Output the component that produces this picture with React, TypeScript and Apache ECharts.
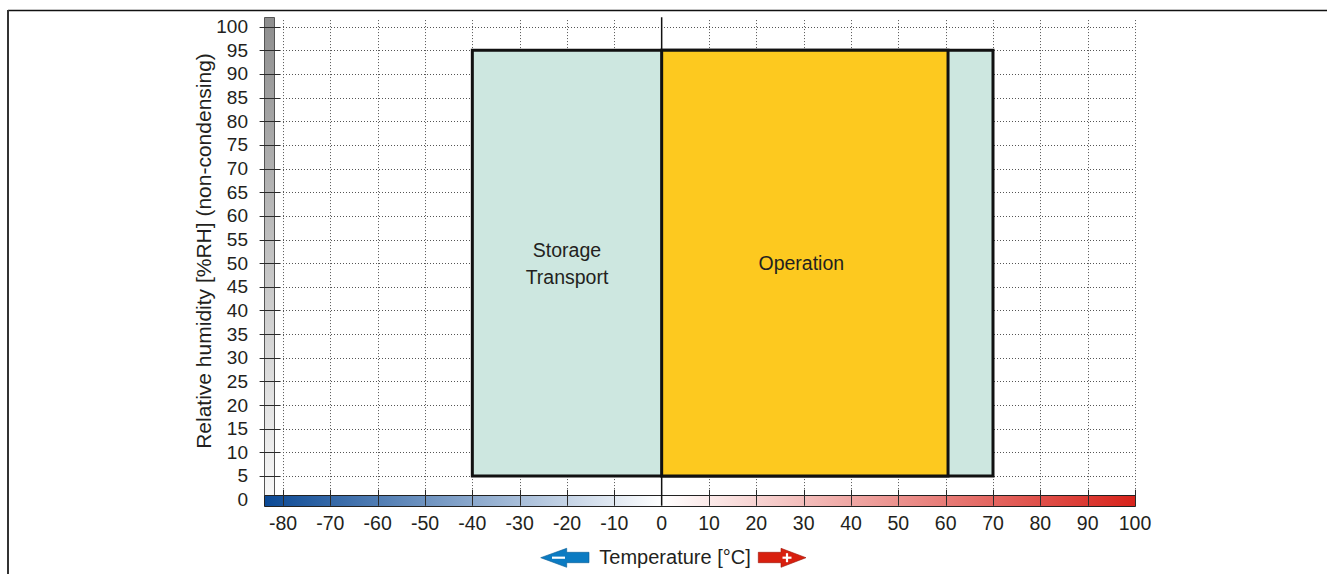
import React, { useEffect, useRef } from 'react';
import * as echarts from 'echarts';

// ---- data ----
const tempTicks = [-80, -70, -60, -50, -40, -30, -20, -10, 0, 10, 20, 30, 40, 50, 60, 70, 80, 90, 100];
const rhTicks = [0, 5, 10, 15, 20, 25, 30, 35, 40, 45, 50, 55, 60, 65, 70, 75, 80, 85, 90, 95, 100];
const tempScaleExtent = [-84.1, 100];
const rhScaleExtent = [-1.3, 102];
const tempBarRh = [-1.3, 1.0];
const rhBarTemp = [-84.1, -82.0];
const gridTopRh = 101.4;

const zoneNames = ['Storage\nTransport', 'Operation'];
const zoneTempMin = [-40, 0];
const zoneTempMax = [70, 60.5];
const zoneRhMin = [5, 5];
const zoneRhMax = [95, 95];
const zoneFill = ['#cde7e0', '#fdc91f'];
const zoneLabelTemp = [-20, 29.5];
const zoneLabelRh = [50, 50];

const yAxisTitle = 'Relative humidity [%RH] (non-condensing)';
const xAxisTitle = 'Temperature [°C]';

const FONT = '"Liberation Sans", Arial, Helvetica, sans-serif';
const TXT = '#231f20';

const crisp = (v: number) => Math.round(v) + 0.5;

export default function App() {
  const ref = useRef<HTMLDivElement>(null);
  useEffect(() => {
    if (!ref.current) return;
    const chart = echarts.init(ref.current, undefined, { renderer: 'svg' });

    const gridSeries = {
      type: 'custom',
      clip: false,
      silent: true,
      z: 1,
      data: [[0, 0]],
      renderItem: (_p: any, api: any) => {
        const children: any[] = [];
        const dotted = { stroke: '#555', lineWidth: 1, lineDash: [1, 2] };
        tempTicks.forEach((t) => {
          if (t === 0) return;
          const a = api.coord([t, gridTopRh]);
          const b = api.coord([t, 0]);
          const x = crisp(a[0]);
          children.push({ type: 'line', shape: { x1: x, y1: a[1], x2: x, y2: b[1] }, style: dotted });
        });
        rhTicks.forEach((r) => {
          if (r === 0) return;
          const a = api.coord([tempTicks[0], r]);
          const b = api.coord([tempTicks[tempTicks.length - 1], r]);
          const y = crisp(a[1]);
          children.push({ type: 'line', shape: { x1: a[0], y1: y, x2: b[0], y2: y }, style: dotted });
        });
        return { type: 'group', children };
      },
    };

    const zoneSeries = {
      type: 'custom',
      clip: false,
      silent: true,
      z: 2,
      data: zoneNames.map((_n, i) => [zoneTempMin[i], zoneTempMax[i], zoneRhMin[i], zoneRhMax[i], i]),
      renderItem: (params: any, api: any) => {
        const i = params.dataIndex;
        const p1 = api.coord([zoneTempMin[i], zoneRhMax[i]]);
        const p2 = api.coord([zoneTempMax[i], zoneRhMin[i]]);
        const lp = api.coord([zoneLabelTemp[i], zoneLabelRh[i]]);
        return {
          type: 'group',
          children: [
            {
              type: 'rect',
              shape: { x: p1[0], y: p1[1], width: p2[0] - p1[0], height: p2[1] - p1[1] },
              style: { fill: zoneFill[i], stroke: '#111', lineWidth: 3 },
            },
            {
              type: 'text',
              x: lp[0],
              y: lp[1],
              style: {
                text: zoneNames[i],
                fill: TXT,
                fontSize: 19.5,
                fontFamily: FONT,
                align: 'center',
                verticalAlign: 'middle',
                lineHeight: 27,
              },
            },
          ],
        };
      },
    };

    const scaleSeries = {
      type: 'custom',
      clip: false,
      silent: true,
      z: 3,
      data: [[0, 0]],
      renderItem: (_p: any, api: any) => {
        const children: any[] = [];
        // vertical humidity bar
        const v1 = api.coord([rhBarTemp[0], rhScaleExtent[1]]);
        const v2 = api.coord([rhBarTemp[1], tempBarRh[1]]);
        children.push({
          type: 'rect',
          shape: { x: crisp(v1[0]), y: crisp(v1[1]), width: Math.round(v2[0] - v1[0]), height: Math.round(v2[1] - v1[1]) },
          style: {
            fill: new echarts.graphic.LinearGradient(0, 0, 0, 1, [
              { offset: 0, color: '#8e8e8e' },
              { offset: 1, color: '#f7f7f7' },
            ]),
            stroke: '#555',
            lineWidth: 1,
          },
        });
        // horizontal temperature bar
        const h1 = api.coord([tempScaleExtent[0], tempBarRh[1]]);
        const h2 = api.coord([tempScaleExtent[1], tempBarRh[0]]);
        const zeroFrac = (0 - tempScaleExtent[0]) / (tempScaleExtent[1] - tempScaleExtent[0]);
        children.push({
          type: 'rect',
          shape: { x: crisp(h1[0]), y: crisp(h1[1]), width: Math.round(h2[0] - h1[0]), height: Math.round(h2[1] - h1[1]) },
          style: {
            fill: new echarts.graphic.LinearGradient(0, 0, 1, 0, [
              { offset: 0, color: '#0b4995' },
              { offset: zeroFrac, color: '#ffffff' },
              { offset: 1, color: '#d7231b' },
            ]),
            stroke: '#222',
            lineWidth: 1,
          },
        });
        // y ticks
        rhTicks.forEach((r) => {
          if (r === 0) return;
          const p = api.coord([rhBarTemp[0], r]);
          const y = crisp(p[1]);
          children.push({
            type: 'line',
            shape: { x1: p[0] - 4, y1: y, x2: p[0] + 17, y2: y },
            style: { stroke: '#2a2a2a', lineWidth: 1 },
          });
        });
        // x ticks
        tempTicks.forEach((t) => {
          if (t === 0) return;
          const p = api.coord([t, tempBarRh[0]]);
          const x = crisp(p[0]);
          children.push({
            type: 'line',
            shape: { x1: x, y1: p[1], x2: x, y2: p[1] - 16 },
            style: { stroke: '#2a2a2a', lineWidth: 1 },
          });
        });
        // zero line
        const z1 = api.coord([0, rhScaleExtent[1]]);
        const z2 = api.coord([0, tempBarRh[0]]);
        children.push({
          type: 'line',
          shape: { x1: z1[0], y1: z1[1], x2: z2[0], y2: z2[1] },
          style: { stroke: '#111', lineWidth: 1.5 },
        });
        return { type: 'group', children };
      },
    };

    chart.setOption({
      animation: false,
      grid: { left: 283, right: 192, top: 26.7, bottom: 74.4, containLabel: false },
      xAxis: {
        type: 'value',
        min: -80,
        max: 100,
        interval: 10,
        axisLine: { show: false },
        axisTick: { show: false },
        splitLine: { show: false },
        axisLabel: { fontSize: 19.5, fontFamily: FONT, color: TXT, margin: 13.5 },
      },
      yAxis: {
        type: 'value',
        min: 0,
        max: 100,
        interval: 5,
        axisLine: { show: false },
        axisTick: { show: false },
        splitLine: { show: false },
        axisLabel: { fontSize: 19, fontFamily: FONT, color: TXT, margin: 35 },
      },
      series: [gridSeries, zoneSeries, scaleSeries],
      graphic: {
        elements: [
          { type: 'line', shape: { x1: 8, y1: 10.5, x2: 1327, y2: 10.5 }, style: { stroke: '#111', lineWidth: 1.5 } },
          { type: 'line', shape: { x1: 8, y1: 10, x2: 8, y2: 574 }, style: { stroke: '#333', lineWidth: 2 } },
          {
            type: 'text',
            x: 203,
            y: 251,
            rotation: Math.PI / 2,
            style: { text: yAxisTitle, fill: TXT, fontSize: 21, fontFamily: FONT, align: 'center', verticalAlign: 'middle' },
          },
          {
            type: 'text',
            x: 675,
            y: 557,
            style: { text: xAxisTitle, fill: TXT, fontSize: 20, fontFamily: FONT, align: 'center', verticalAlign: 'middle' },
          },
          {
            type: 'polygon',
            shape: { points: [[540.7, 557.7], [566.7, 548.3], [566.7, 552.3], [589, 552.3], [589, 562.7], [566.7, 562.7], [566.7, 567.3]] },
            style: { fill: '#0b7bc2', stroke: '#0a5d93', lineWidth: 0.6 },
          },
          { type: 'rect', shape: { x: 552, y: 556.6, width: 13, height: 2.2 }, style: { fill: '#fff' } },
          {
            type: 'polygon',
            shape: { points: [[758.3, 552.3], [781, 552.3], [781, 548.3], [806, 557.7], [781, 567.3], [781, 562.7], [758.3, 562.7]] },
            style: { fill: '#d81f0e', stroke: '#9a1508', lineWidth: 0.6 },
          },
          { type: 'rect', shape: { x: 782.5, y: 556.6, width: 9, height: 2.2 }, style: { fill: '#fff' } },
          { type: 'rect', shape: { x: 785.9, y: 553.2, width: 2.2, height: 9 }, style: { fill: '#fff' } },
        ],
      },
    });
    return () => chart.dispose();
  }, []);
  return <div ref={ref} style={{ position: 'fixed', left: 0, top: 0, width: 1327, height: 574, background: '#fff' }} />;
}
